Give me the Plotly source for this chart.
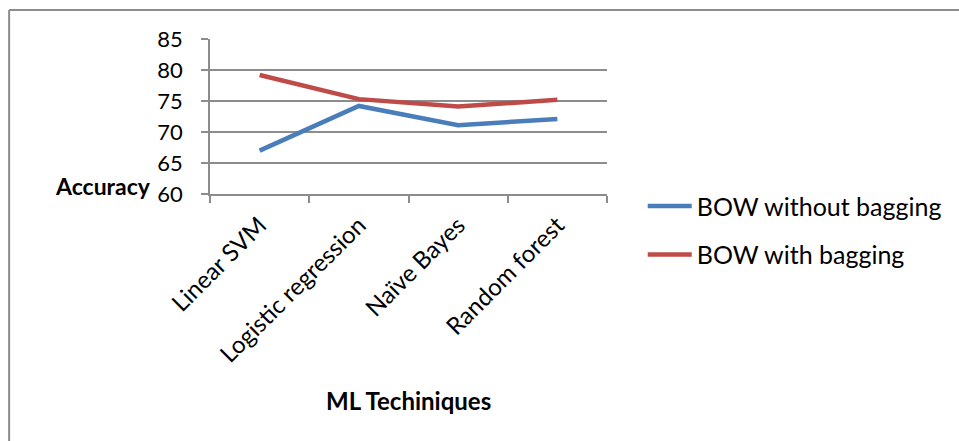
import plotly.graph_objects as go

techniques = ["Linear SVM", "Logistic regression", "Naïve Bayes", "Random forest"]
bow_without_bagging = [67.0, 74.2, 71.1, 72.1]
bow_with_bagging = [79.2, 75.3, 74.1, 75.2]
y_ticks = [60, 65, 70, 75, 80, 85]

FONT = "Lato"
GRID = "#8c8c8c"

fig = go.Figure()
fig.add_trace(go.Scatter(
    x=techniques, y=bow_without_bagging, mode="lines",
    name="BOW without bagging", legendgroup="a",
    line=dict(color="#4a7ebb", width=4.5),
))
fig.add_trace(go.Scatter(
    x=techniques, y=bow_with_bagging, mode="lines",
    name="BOW with bagging", legendgroup="b",
    line=dict(color="#be4b48", width=4.5),
))

fig.update_layout(
    width=959, height=441,
    margin=dict(l=210, r=352, t=39, b=247),
    paper_bgcolor="white", plot_bgcolor="white",
    font=dict(family=FONT, size=22, color="black"),
    showlegend=True,
    legend=dict(
        x=1.09, y=0.07, xanchor="left", yanchor="top",
        font=dict(family=FONT, size=25, color="black"),
        traceorder="grouped", tracegroupgap=13, itemwidth=44,
        bgcolor="rgba(0,0,0,0)",
    ),
    xaxis=dict(
        type="category", range=[-0.5, 3.5],
        tickson="boundaries", ticks="outside", ticklen=7, tickcolor=GRID,
        tickwidth=1.5,
        showline=True, linecolor=GRID, linewidth=1.5,
        showgrid=False, tickangle=-45,
        tickfont=dict(family=FONT, size=24),
        ticklabelstandoff=6,
    ),
    yaxis=dict(
        range=[60, 85], tickvals=y_ticks,
        ticks="outside", ticklen=7, tickcolor=GRID, tickwidth=1.5,
        showline=True, linecolor=GRID, linewidth=1.5,
        showgrid=True, gridcolor=GRID, gridwidth=1.5,
        zeroline=False,
        tickfont=dict(family=FONT, size=22),
        ticklabelstandoff=14,
    ),
)

# chart frame (top and left edges)
fig.add_shape(type="line", xref="paper", yref="paper",
              x0=-0.506, x1=1.9, y0=1.187, y1=1.187,
              line=dict(color="#8c8c8c", width=2))
fig.add_shape(type="line", xref="paper", yref="paper",
              x0=-0.506, x1=-0.506, y0=1.187, y1=-2.0,
              line=dict(color="#8c8c8c", width=2))

fig.add_annotation(text="<b>Accuracy</b>", xref="paper", yref="paper",
                   x=-0.143, y=0.05, xanchor="right", yanchor="middle",
                   showarrow=False, font=dict(family=FONT, size=23))
fig.add_annotation(text="<b>ML Techiniques</b>", xref="paper", yref="paper",
                   x=0.5, y=-1.33, xanchor="center", yanchor="middle",
                   showarrow=False, font=dict(family=FONT, size=24))

fig.write_html("out.html")
